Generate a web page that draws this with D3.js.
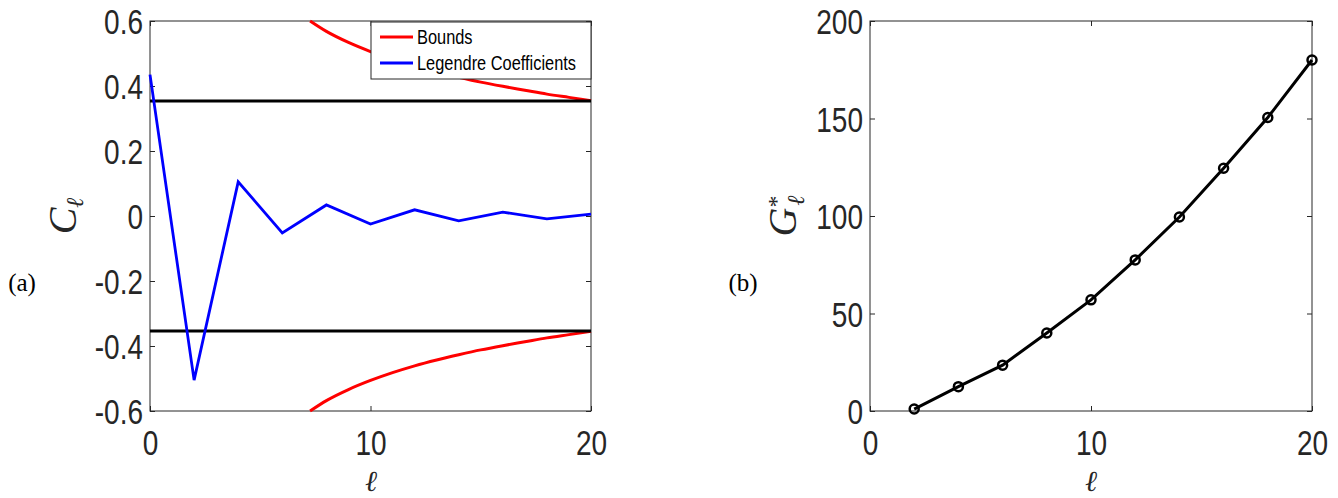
<!DOCTYPE html>
<html>
<head>
<meta charset="utf-8">
<script src="https://cdn.jsdelivr.net/npm/d3@7"></script>
<style>
  body { margin: 0; background: #fff; }
  svg { display: block; }
  .tick text { font-family: "Liberation Sans", Arial, sans-serif; fill: #262626; }
</style>
</head>
<body>
<svg id="chart" width="1338" height="498"></svg>
<script>
// ---------- data

const ell = [0, 2, 4, 6, 8, 10, 12, 14, 16, 18, 20];
const legendreCoeffs = [0.435, -0.505, 0.105, -0.052, 0.034, -0.025, 0.019, -0.015, 0.012, -0.009, 0.006];

const boundEll = [7.26, 8, 9, 10, 11, 12, 13, 14, 15, 16, 17, 18, 19, 20];
const boundUpper = [0.6, 0.568, 0.534, 0.506, 0.482, 0.461, 0.443, 0.427, 0.412, 0.399, 0.387, 0.375, 0.365, 0.355];
const boundLower = [-0.6, -0.568, -0.534, -0.506, -0.482, -0.461, -0.443, -0.427, -0.412, -0.399, -0.387, -0.375, -0.365, -0.355];

const thresholds = [0.354, -0.354];

const gEll = [2, 4, 6, 8, 10, 12, 14, 16, 18, 20];
const gStar = [1, 12.5, 23.5, 40, 57, 77.5, 99.5, 124.5, 150.5, 180];

const xTicks = [0, 10, 20];
const leftYTicks = [-0.6, -0.4, -0.2, 0, 0.2, 0.4, 0.6];
const rightYTicks = [0, 50, 100, 150, 200];
const legendLabels = ['Bounds', 'Legendre Coefficients'];
const legendColors = ['#ff0000', '#0000ff'];

// ---------- layout

const svg = d3.select('#chart');
const axisColor = '#262626';
const sx = 0.8; // condensed look of the exported tick font

const panels = {
  a: {left: 150, right: 591, top: 21, bottom: 411},
  b: {left: 870, right: 1312, top: 21, bottom: 411}
};

function drawFrame(g, xScale, yScale, yTicks, yFormat, p) {
  const w = p.right - p.left, h = p.bottom - p.top;
  // inner ticks on all four sides (box on)
  g.append('g')
      .attr('transform', `translate(0,${h})`)
      .call(d3.axisTop(xScale).tickValues(xTicks).tickSize(5).tickFormat(''))
      .call(a => a.select('.domain').remove());
  g.append('g')
      .call(d3.axisBottom(xScale).tickValues(xTicks).tickSize(5).tickFormat(''))
      .call(a => a.select('.domain').remove());
  g.append('g')
      .call(d3.axisRight(yScale).tickValues(yTicks).tickSize(5).tickFormat(''))
      .call(a => a.select('.domain').remove());
  g.append('g')
      .attr('transform', `translate(${w},0)`)
      .call(d3.axisLeft(yScale).tickValues(yTicks).tickSize(5).tickFormat(''))
      .call(a => a.select('.domain').remove());
  g.selectAll('.tick line').attr('stroke', axisColor);

  // tick labels
  const xl = g.append('g')
      .attr('transform', `translate(0,${h})`)
      .call(d3.axisBottom(xScale).tickValues(xTicks).tickSize(0).tickPadding(0));
  xl.select('.domain').remove();
  xl.selectAll('text')
      .attr('font-size', 35)
      .attr('y', 0).attr('dy', 44)
      .attr('transform', `scale(${sx},1)`);

  const yl = g.append('g')
      .call(d3.axisLeft(yScale).tickValues(yTicks).tickSize(0).tickFormat(yFormat));
  yl.select('.domain').remove();
  yl.selectAll('text')
      .attr('font-size', 35)
      .attr('x', -7 / sx).attr('dy', '0.36em')
      .attr('transform', `scale(${sx},1)`);

  g.append('rect')
      .attr('width', w).attr('height', h)
      .attr('fill', 'none')
      .attr('stroke', axisColor)
      .attr('stroke-width', 1);
}

// ---------- panel (a)

const pa = panels.a;
const xA = d3.scaleLinear().domain([0, 20]).range([0, pa.right - pa.left]);
const yA = d3.scaleLinear().domain([-0.6, 0.6]).range([pa.bottom - pa.top, 0]);
const gA = svg.append('g').attr('transform', `translate(${pa.left},${pa.top})`);

const fmtA = d => d === 0 ? '0' : d3.format('.1f')(d).replace('\u2212', '-');
drawFrame(gA, xA, yA, leftYTicks, fmtA, pa);

const lineA = d3.line().x(d => xA(d[0])).y(d => yA(d[1]));

gA.append('path')
    .datum(d3.zip(boundEll, boundUpper))
    .attr('d', lineA.curve(d3.curveMonotoneX))
    .attr('fill', 'none').attr('stroke', '#ff0000').attr('stroke-width', 3);
gA.append('path')
    .datum(d3.zip(boundEll, boundLower))
    .attr('d', lineA.curve(d3.curveMonotoneX))
    .attr('fill', 'none').attr('stroke', '#ff0000').attr('stroke-width', 3);

thresholds.forEach(t => {
  gA.append('line')
      .attr('x1', xA(0)).attr('x2', xA(20))
      .attr('y1', yA(t)).attr('y2', yA(t))
      .attr('stroke', '#000').attr('stroke-width', 3);
});

gA.append('path')
    .datum(d3.zip(ell, legendreCoeffs))
    .attr('d', lineA.curve(d3.curveLinear))
    .attr('fill', 'none').attr('stroke', '#0000ff').attr('stroke-width', 2.8)
    .attr('stroke-linejoin', 'miter');

// legend
const lg = gA.append('g').attr('transform', `translate(${371 - pa.left},1)`);
lg.append('rect')
    .attr('width', 220).attr('height', 57)
    .attr('fill', '#fff').attr('stroke', axisColor).attr('stroke-width', 1);
legendLabels.forEach((lab, i) => {
  const y = 15 + i * 26;
  lg.append('line')
      .attr('x1', 9).attr('x2', 42).attr('y1', y).attr('y2', y)
      .attr('stroke', legendColors[i]).attr('stroke-width', 3);
  lg.append('text')
      .attr('transform', `translate(46,${y}) scale(0.82,1)`)
      .attr('dy', '0.36em')
      .attr('font-family', '"Liberation Sans", Arial, sans-serif')
      .attr('font-size', 20)
      .attr('fill', '#000')
      .text(lab);
});

// ---------- panel (b)

const pb = panels.b;
const xB = d3.scaleLinear().domain([0, 20]).range([0, pb.right - pb.left]);
const yB = d3.scaleLinear().domain([0, 200]).range([pb.bottom - pb.top, 0]);
const gB = svg.append('g').attr('transform', `translate(${pb.left},${pb.top})`);

drawFrame(gB, xB, yB, rightYTicks, d3.format('d'), pb);

gB.append('path')
    .datum(d3.zip(gEll, gStar))
    .attr('d', d3.line().x(d => xB(d[0])).y(d => yB(d[1])))
    .attr('fill', 'none').attr('stroke', '#000').attr('stroke-width', 3);

gB.selectAll('circle.mk')
    .data(d3.zip(gEll, gStar))
    .join('circle')
    .attr('class', 'mk')
    .attr('cx', d => xB(d[0])).attr('cy', d => yB(d[1]))
    .attr('r', 4.5)
    .attr('fill', 'none').attr('stroke', '#000').attr('stroke-width', 2.5);

// ---------- axis titles and panel tags (LaTeX style)

const lserif = '"Liberation Serif", "DejaVu Serif", serif';

function ellLabel(x, y) {
  svg.append('text')
      .attr('x', x).attr('y', y)
      .attr('text-anchor', 'middle')
      .attr('font-family', lserif)
      .attr('font-style', 'italic')
      .attr('font-size', 29)
      .attr('fill', '#262626')
      .text('\u2113');
}
ellLabel(371, 491);
ellLabel(1091, 491);

// C_ell
const cl = svg.append('text')
    .attr('transform', 'translate(76,216) rotate(-90)')
    .attr('text-anchor', 'middle')
    .attr('font-family', lserif)
    .attr('font-style', 'italic')
    .attr('fill', '#262626');
cl.append('tspan').attr('font-size', 40).text('C');
cl.append('tspan').attr('font-size', 24).attr('dy', 7).text('\u2113');

// G*_ell
const gl = svg.append('text')
    .attr('transform', 'translate(796,216) rotate(-90)')
    .attr('text-anchor', 'middle')
    .attr('font-family', lserif)
    .attr('font-style', 'italic')
    .attr('fill', '#262626');
gl.append('tspan').attr('font-size', 40).text('G');
gl.append('tspan').attr('font-size', 24).attr('font-style', 'normal').attr('dy', -12).text('*');
gl.append('tspan').attr('font-size', 24).attr('dx', -10).attr('dy', 20).text('\u2113');

[['(a)', 22], ['(b)', 743]].forEach(([t, x]) => {
  svg.append('text')
      .attr('x', x).attr('y', 291)
      .attr('text-anchor', 'middle')
      .attr('font-family', lserif)
      .attr('font-size', 25)
      .attr('fill', '#000')
      .text(t);
});
</script>
</body>
</html>
